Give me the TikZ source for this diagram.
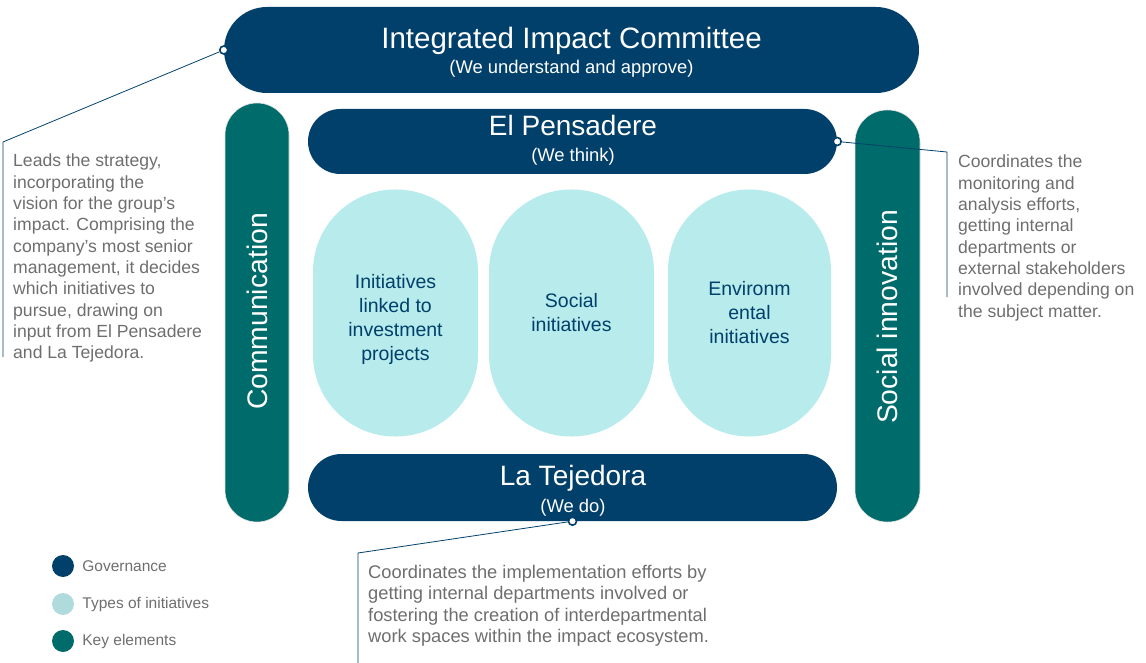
\documentclass[tikz,border=0pt]{standalone}
\usepackage{fontspec}
\setmainfont{Liberation Sans}
\usepackage{xcolor}
\usepackage{tikz}
\usetikzlibrary{positioning}

\definecolor{govblue}{HTML}{00406A}
\definecolor{keyteal}{HTML}{006B6B}
\definecolor{initcyan}{HTML}{B8EBEC}
\definecolor{notegray}{HTML}{6E6E6E}

\tikzset{
  govpill/.style={rectangle, fill=govblue, inner sep=0pt},
  keypill/.style={rectangle, fill=keyteal, draw=black!12, line width=0.6pt, inner sep=0pt},
  initpill/.style={rectangle, fill=initcyan, inner sep=0pt},
  titletext/.style={text=white, anchor=base, inner sep=0pt, font=\fontsize{29.5}{32}\selectfont},
  headtext/.style={text=white, anchor=base, inner sep=0pt, font=\fontsize{28}{30}\selectfont},
  subtext/.style={text=white, anchor=base, inner sep=0pt, font=\fontsize{18.4}{20}\selectfont},
  keytext/.style={text=white, inner sep=0pt, font=\fontsize{28.3}{30}\selectfont},
  inittext/.style={text=govblue, align=center, inner sep=0pt, font=\fontsize{19.5}{24}\selectfont},
  notetext/.style={text=notegray, align=left, inner sep=0pt, font=\fontsize{17.6}{21.3}\selectfont},
  legtext/.style={text=notegray, inner sep=0pt, font=\fontsize{15.5}{17}\selectfont},
  legdot/.style={circle, inner sep=0pt, minimum size=22pt},
  dot/.style={circle, fill=white, draw=govblue, line width=1.6pt, inner sep=0pt, minimum size=8pt},
  callout/.style={draw=govblue, line width=0.8pt},
}

\begin{document}
\begin{tikzpicture}[x=1pt, y=-1pt]
  \useasboundingbox (0,0) rectangle (1146,663);

  % governance bodies
  \node(IIC) at (571.5,50) [govpill, minimum width=695pt, minimum height=86pt, rounded corners=43pt] {};
  \node(EP) at (572.5,141.5) [govpill, minimum width=529pt, minimum height=65pt, rounded corners=32.5pt] {};
  \node(LT) at (572.5,487.5) [govpill, minimum width=529pt, minimum height=67pt, rounded corners=33.5pt] {};

  % key elements
  \node(COM) at (257,312.5) [keypill, minimum width=64pt, minimum height=419pt, rounded corners=32pt] {};
  \node(SOC) at (887.5,316) [keypill, minimum width=65pt, minimum height=412pt, rounded corners=32pt] {};

  % types of initiatives
  \node(I1) at (395.5,313) [initpill, minimum width=165pt, minimum height=247pt, rounded corners=82pt] {};
  \node(I2) at (571.5,313) [initpill, minimum width=165pt, minimum height=247pt, rounded corners=82pt] {};
  \node(I3) at (749.5,313) [initpill, minimum width=163pt, minimum height=247pt, rounded corners=81pt] {};

  \node(IICt) at (571.5,49) [titletext] {Integrated Impact Committee};
  \node(IICs) at (571.5,74) [subtext] {(We understand and approve)};
  \node(EPt) at (573,136) [headtext] {El Pensadere};
  \node(EPs) at (573,162) [subtext] {(We think)};
  \node(LTt) at (573,485) [headtext] {La Tejedora};
  \node(LTs) at (573,512) [subtext] {(We do)};

  \node(COMt) at ([yshift=1pt]COM.center) [keytext, rotate=90] {Communication};
  \node(SOCt) at ([yshift=-1pt]SOC.center) [keytext, rotate=90] {Social innovation};

  \node(I1t) at ([yshift=-6pt]I1.center) [inittext] {Initiatives\\linked to\\investment\\projects};
  \node(I2t) at (I2.center) [inittext] {Social\\initiatives};
  \node(I3t) at (I3.center) [inittext] {Environm\\ental\\initiatives};

  % callouts
  \node(d1) at (IIC.west) [dot] {};
  \coordinate (c1) at (3,142);
  \coordinate (c1e) at (3,357);
  \draw[callout] (d1) -- (c1) -- (c1e);
  \node(n1) at (13,154) [notetext, anchor=north west] {Leads the strategy,\\incorporating the\\vision for the group's\\impact. Comprising the\\company’s most senior\\management, it decides\\which initiatives to\\pursue, drawing on\\input from El Pensadere\\and La Tejedora.};

  \node(d2) at (EP.east) [dot] {};
  \coordinate (c2) at (947,152);
  \coordinate (c2e) at (947,297);
  \draw[callout] (d2) -- (c2) -- (c2e);
  \node(n2) at (958,155) [notetext, anchor=north west] {Coordinates the\\monitoring and\\analysis efforts,\\getting internal\\departments or\\external stakeholders\\involved depending on\\the subject matter.};

  \node(d3) at (LT.south) [dot] {};
  \coordinate (c3) at (358,553);
  \coordinate (c3e) at (358,663);
  \draw[callout] (d3) -- (c3) -- (c3e);
  \node(n3) at (368,565) [notetext, anchor=north west, font=\fontsize{18.3}{21.3}\selectfont] {Coordinates the implementation efforts by\\getting internal departments involved or\\fostering the creation of interdepartmental\\work spaces within the impact ecosystem.};

  % legend
  \node(L1) at (63,566) [legdot, fill=govblue] {};
  \node(L2) at (63,604) [legdot, fill=initcyan!85!gray] {};
  \node(L3) at (63,641) [legdot, fill=keyteal] {};
  \node(L1t) [legtext, right=8pt of L1] {Governance};
  \node(L2t) [legtext, right=8pt of L2] {Types of initiatives};
  \node(L3t) [legtext, right=8pt of L3] {Key elements};
\end{tikzpicture}
\end{document}
